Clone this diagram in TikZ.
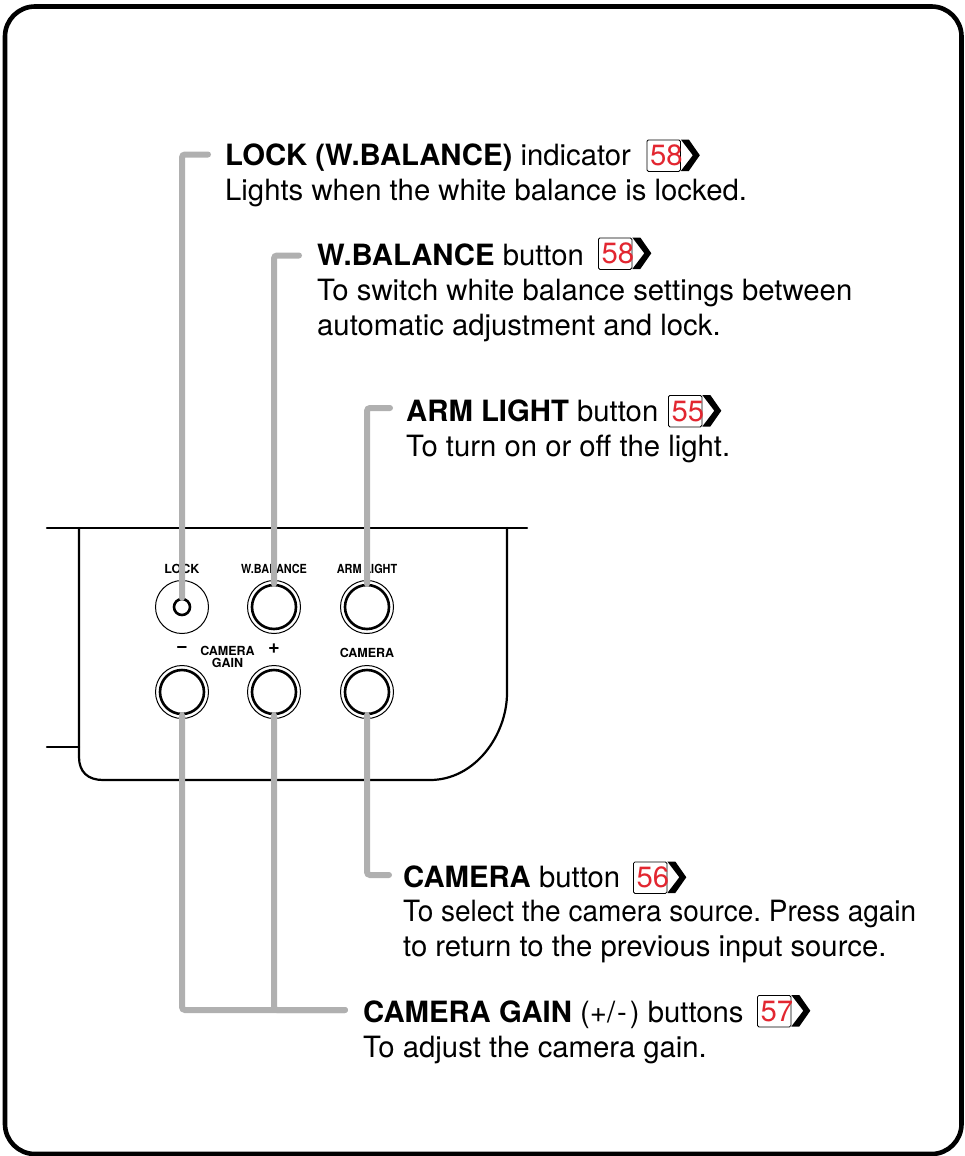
\documentclass[tikz,border=0pt]{standalone}
\usepackage{fontspec}
\setmainfont{TeX Gyre Heros}
\usetikzlibrary{positioning}
\definecolor{leadgray}{RGB}{176, 176, 176}
\definecolor{refred}{RGB}{226, 38, 48}
\tikzset{
    headtxt/.style={anchor=base west, inner sep=0pt, font=\fontsize{29.3}{35}\selectfont},
    desctxt/.style={anchor=base west, inner sep=0pt, align=left, font=\fontsize{29.3}{35}\selectfont\frenchspacing},
    paneltxt/.style={inner sep=0pt, align=center, font=\fontsize{12.5}{12}\selectfont\bfseries},
    panelline/.style={line width=2.2pt, line cap=round, line join=round},
    leader/.style={line width=6pt, leadgray, line cap=round, rounded corners=3pt},
    pgbox/.style={draw, line width=0.8pt, rounded corners=1.5pt, anchor=north west, inner sep=0pt,
        minimum width=33.5pt, minimum height=31.5pt, text=refred, font=\fontsize{29.3}{29}\selectfont},
    btnouter/.style={circle, draw, line width=1pt, minimum size=53pt, inner sep=0pt},
    btninner/.style={circle, draw, line width=2.6pt, minimum size=44pt, inner sep=0pt},
    ledinner/.style={circle, draw, line width=2.6pt, minimum size=16pt, inner sep=0pt}
}
\newcommand{\pgbadge}[3]{%
    \node[pgbox] (#1) at (#2) {\makebox[32pt][l]{\kern2.5pt #3}};
    \fill (#1.north east) -- ++(8,0) -- ++(11,15.75) -- ++(-11,15.75) -- ++(-8,0) -- ++(12,-15.75) -- cycle;
}
\begin{document}
\begin{tikzpicture}[x=1pt, y=-1pt]
\useasboundingbox (0,0) rectangle (964,1156);

% === Marco exterior ===
\draw[line width=4.6pt, rounded corners=30pt] (5,6.5) rectangle (961.5,1154);

% === Panel ===
\draw[panelline] (47,528) -- (527,528);
\draw[panelline] (47,747) -- (79,747);
\draw[panelline] (79,528) -- (79,757) .. controls (79,772) and (88,780) .. (103,780)
    -- (430,780) .. controls (475,780) and (507,735) .. (507,693) -- (507,528);

% Rotulos del panel
\node[paneltxt] (locktxt) at (182,568.5) {LOCK};
\node[paneltxt] (wbaltxt) at (274,569) {\scalebox{0.87}[1]{W.BALANCE}};
\node[paneltxt] (armtxt) at (367,569) {\scalebox{0.87}[1]{ARM LIGHT}};
\node[paneltxt] (camtxt) at (367,653) {CAMERA};
\node[paneltxt] (gaintxt) at (227.5,657) {CAMERA\\[0pt]GAIN};
\node[paneltxt, font=\fontsize{20}{20}\selectfont\bfseries] (minustxt) at (182,649) {\textminus};
\node[paneltxt, font=\fontsize{20}{20}\selectfont\bfseries] (plustxt) at (274,649) {+};

% Botones
\node[btnouter] (lockring) at (182,607) {};
\node[ledinner] (lockled) at (182,607) {};
\foreach \nm/\px/\py in {wbal/274/607, arm/367/607, minus/182/692, plus/274/692, cam/367/692}{
    \node[btnouter] (\nm ring) at (\px,\py) {};
    \node[btninner] (\nm btn) at (\px,\py) {};
}

% === Textos ===
\node[headtxt] (lockhead) at (225,165) {\textbf{LOCK (W.BALANCE)} indicator};
\node[desctxt] (lockdesc) at (225,200) {Lights when the white balance is locked.};
\pgbadge{lockref}{646.5,139.5}{58}

\node[headtxt] (wbalhead) at (317,265) {\textbf{W.BALANCE} button};
\node[desctxt] (wbaldesc) at (317,335) {To switch white balance settings between\\automatic adjustment and lock.};
\pgbadge{wbalref}{598,237.5}{58}

\node[headtxt] (armhead) at (406,421) {\textbf{ARM LIGHT} button};
\node[desctxt] (armdesc) at (406,456) {To turn on or off the light.};
\pgbadge{armref}{668,395}{55}

\node[headtxt] (camhead) at (403,887) {\textbf{CAMERA} button};
\node[desctxt] (camdesc) at (403,956) {\scalebox{0.955}[1]{To select the camera source. Press again}\\to return to the previous input source.};
\pgbadge{camref}{633,861.5}{56}

\node[headtxt] (gainhead) at (363,1022) {\textbf{CAMERA GAIN} (+/\kern2pt-\kern3pt) buttons};
\node[desctxt] (gaindesc) at (363,1057) {To adjust the camera gain.};
\pgbadge{gainref}{757,995}{57}

% === Lineas guia ===
\coordinate (lockend) at (208,154.5);
\coordinate (wbalend) at (299,255.5);
\coordinate (armend) at (390,408);
\coordinate (camend) at (389,875);
\coordinate (gainend) at (345,1010);
\draw[leader] (lockend) -| (lockled.north);
\draw[leader] (wbalend) -| (wbalbtn.north);
\draw[leader] (armend) -| (armbtn.north);
\draw[leader] (camend) -| (cambtn.south);
\draw[leader] (gainend) -| (minusbtn.south);
\draw[leader] (plusbtn.south) |- (gainend);

\end{tikzpicture}
\end{document}
